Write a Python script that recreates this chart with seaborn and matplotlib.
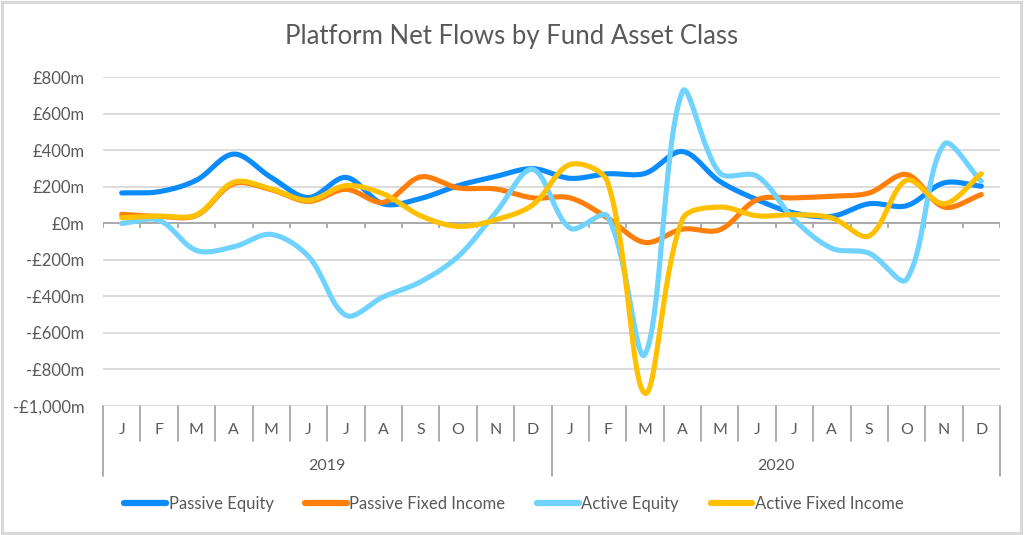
import matplotlib
matplotlib.use("Agg")
import matplotlib.pyplot as plt
from matplotlib.patches import Rectangle
from matplotlib.lines import Line2D
import numpy as np
import pandas as pd
import seaborn as sns

# ---- data (£m) ----
months = list("JFMAMJJASOND")
years = ["2019", "2020"]
series_names = ["Passive Equity", "Passive Fixed Income", "Active Equity", "Active Fixed Income"]
colors = ["#0A8CFF", "#FF7F0A", "#6FD2FF", "#FFC000"]

passive_equity = [165, 172, 235, 378, 250, 140, 250, 105, 135, 205, 255, 298,
                  245, 270, 272, 392, 229, 128, 55, 37, 106, 95, 220, 202]
passive_fixed = [48, 37, 42, 216, 183, 119, 185, 114, 253, 193, 187, 138,
                 138, 28, -106, -33, -37, 128, 138, 147, 165, 266, 88, 156]
active_equity = [-2, 15, -150, -130, -62, -183, -505, -404, -321, -183, 55, 294,
                 -28, 37, -719, 719, 275, 257, 18, -138, -165, -308, 431, 229]
active_fixed = [30, 38, 45, 224, 187, 125, 205, 160, 40, -18, 18, 100,
                321, 225, -932, 20, 88, 40, 46, 28, -70, 235, 106, 270]

y_ticks = list(range(-1000, 801, 200))

TEXT = "#595959"
PX_X = 37.4          # pixels per category
PX_Y = 36.45 / 200   # pixels per £m


def smooth(y, n=30):
    """Bezier smoothing in screen space, tangents weighted by chord length
    (close to Excel's 'smoothed line')."""
    x = np.arange(len(y), dtype=float)
    y = np.asarray(y, float)
    P = np.column_stack([x * PX_X, y * PX_Y])
    P = np.vstack([P[0], P, P[-1]])
    t = np.linspace(0, 1, n, endpoint=False)[:, None]
    out = []
    for i in range(1, len(P) - 2):
        p0, p1, p2, p3 = P[i - 1], P[i], P[i + 1], P[i + 2]
        d01 = np.linalg.norm(p1 - p0)
        d12 = np.linalg.norm(p2 - p1)
        d23 = np.linalg.norm(p3 - p2)
        a = d12 / (d01 + d12) if d01 + d12 > 0 else 0.5
        b = d12 / (d12 + d23) if d12 + d23 > 0 else 0.5
        c1 = p1 + (p2 - p0) * a / 3
        c2 = p2 - (p3 - p1) * b / 3
        seg = ((1 - t) ** 3) * p1 + 3 * ((1 - t) ** 2) * t * c1 + 3 * (1 - t) * t ** 2 * c2 + t ** 3 * p2
        out.append(seg)
    out.append(P[-2][None, :])
    out = np.vstack(out)
    return out[:, 0] / PX_X, out[:, 1] / PX_Y


frames = []
for name, vals in zip(series_names, [passive_equity, passive_fixed, active_equity, active_fixed]):
    sx, sy = smooth(vals)
    frames.append(pd.DataFrame({"x": sx, "value": sy, "series": name}))
df = pd.concat(frames, ignore_index=True)

sns.set_theme(style="white")
plt.rcParams["font.family"] = ["Lato", "DejaVu Sans"]

fig = plt.figure(figsize=(10.24, 5.35), dpi=100)
ax = fig.add_axes([103 / 1024, 1 - 405.7 / 535, 897 / 1024, 328.7 / 535])

# gridlines
for v in y_ticks:
    ax.axhline(v, color="#D9D9D9", lw=1.3, zorder=0)
ax.axhline(0, color="#A6A6A6", lw=1.3, zorder=1)

sns.lineplot(data=df, x="x", y="value", hue="series", hue_order=series_names,
             palette=colors, linewidth=3.7, sort=False, estimator=None,
             legend=False, solid_capstyle="round", ax=ax, zorder=3)

n = len(passive_equity)
ax.set_xlim(-0.5, n - 0.5)
ax.set_ylim(-1000, 800)
ax.set_xlabel("")
ax.set_ylabel("")
ax.set_xticks([])
ax.set_yticks(y_ticks)
ax.set_yticklabels([f"-£{abs(v):,}m" if v < 0 else f"£{v:,}m" for v in y_ticks],
                   color=TEXT, fontsize=12)
ax.tick_params(axis="y", length=0, pad=13.5)
for s in ax.spines.values():
    s.set_visible(False)

# small tick marks below the zero line at month boundaries
bounds = np.arange(n + 1) - 0.5
ax.vlines(bounds, -27, 0, color="#A6A6A6", lw=1.3, zorder=1)

# multi-level category axis
tr = ax.get_xaxis_transform()
for b in bounds:
    low = -0.213 if b in (-0.5, 11.5, n - 0.5) else -0.107
    ax.plot([b, b], [0, low], color="#A6A6A6", lw=1.3, transform=tr, clip_on=False)
for i in range(n):
    ax.text(i, -0.074, months[i % 12], transform=tr, ha="center", va="center",
            color=TEXT, fontsize=11.5)
for k, yr in enumerate(years):
    ax.text(k * 12 + 5.5, -0.183, yr, transform=tr, ha="center", va="center",
            color=TEXT, fontsize=11.5)

fig.text(0.5, 1 - 37 / 535, "Platform Net Flows by Fund Asset Class",
         ha="center", va="center", color=TEXT, fontsize=18.5)

handles = [Line2D([], [], color=c, lw=4.5, solid_capstyle="round") for c in colors]
fig.legend(handles, series_names, loc="center", bbox_to_anchor=(0.502, 1 - 504 / 535),
           ncol=4, frameon=False, fontsize=12, handlelength=2.5, handletextpad=0.15,
           columnspacing=1.9, labelcolor=TEXT)

fig.patches.append(Rectangle((1.5 / 1024, 2 / 535), 1019 / 1024, 531 / 535,
                             transform=fig.transFigure, fill=False,
                             edgecolor="#D9D9D9", lw=2.2))

fig.savefig("out.png", dpi=100)
